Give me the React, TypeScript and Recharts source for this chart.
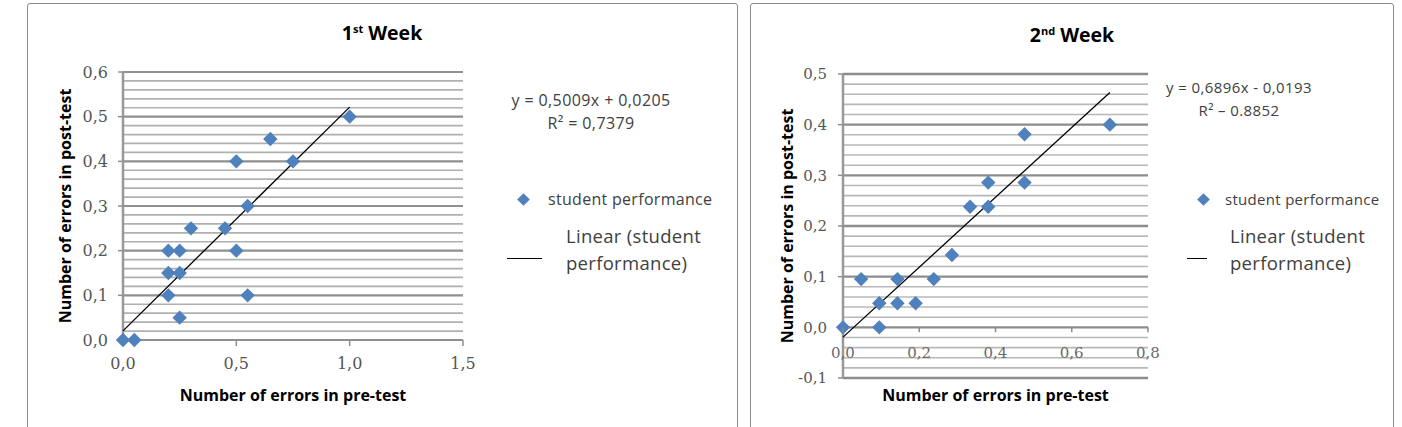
import React from "react";
import { ScatterChart, Scatter, XAxis, YAxis, ReferenceLine, Legend, Label } from "recharts";

/* =======================
   Data
======================= */
// 1st week
const week1Pre = [0, 0.05, 0.2, 0.25, 0.2, 0.25, 0.2, 0.25, 0.3, 0.45, 0.5, 0.55, 0.55, 0.5, 0.65, 0.75, 1.0];
const week1Post = [0, 0, 0.2, 0.2, 0.15, 0.15, 0.1, 0.05, 0.25, 0.25, 0.2, 0.1, 0.3, 0.4, 0.45, 0.4, 0.5];
const week1TrendX = [0, 1.0];
const week1TrendY = [0.0205, 0.5214];
const week1XTicks = [0, 0.5, 1.0, 1.5];
const week1YTicks = [0, 0.1, 0.2, 0.3, 0.4, 0.5, 0.6];

// 2nd week
const week2Pre = [0, 0.0476, 0.0952, 0.0952, 0.1429, 0.1429, 0.1905, 0.2381, 0.2857, 0.3333, 0.381, 0.381, 0.4762, 0.4762, 0.7];
const week2Post = [0, 0.0952, 0.0476, 0, 0.0952, 0.0476, 0.0476, 0.0952, 0.1429, 0.2381, 0.2381, 0.2857, 0.2857, 0.381, 0.4];
const week2TrendX = [0, 0.7];
const week2TrendY = [-0.0193, 0.4634];
const week2XTicks = [0, 0.2, 0.4, 0.6, 0.8];
const week2YTicks = [-0.1, 0, 0.1, 0.2, 0.3, 0.4, 0.5];

const seriesName = "student performance";
const xTitle = "Number of errors in pre-test";
const yTitle = "Number of errors in post-test";

/* =======================
   Utils
======================= */
const BLUE = "#4F81BD";
const TICK_FONT = "'DejaVu Serif', serif";
const SANS = "'Open Sans', sans-serif";

const fmt = (v: number) => v.toFixed(1).replace(".", ",");

const toPoints = (xs: number[], ys: number[]) => xs.map((x, i) => ({ x, y: ys[i] }));

// minor gridlines every 0.02
const gridSteps = (from: number, to: number) => {
  const out: number[] = [];
  for (let i = Math.round(from * 50); i <= Math.round(to * 50); i++) out.push(i / 50);
  return out;
};
const isMajor = (v: number) => Math.abs(v * 10 - Math.round(v * 10)) < 1e-6;

const Diamond = (props: any) => {
  const { cx, cy } = props;
  if (cx == null || cy == null) return <g />;
  const r = 7.2;
  return <path d={`M${cx},${cy - r}L${cx + r},${cy}L${cx},${cy + r}L${cx - r},${cy}Z`} fill={BLUE} />;
};

const Empty = () => <g />;

const axisTitleStyle = { fontFamily: SANS, fontWeight: 700, fontSize: 16, fill: "#000" };

/* =======================
   Legend / equation
======================= */
type LegendProps = {
  markerX: number;
  markerTextX: number;
  markerFont: number;
  lineX: number;
  lineW: number;
  textX: number;
};

const LegendBox = ({ markerX, markerTextX, markerFont, lineX, lineW, textX }: LegendProps) => (
  <div style={{ position: "relative", width: 220, height: 95, fontFamily: SANS, color: "#404040" }}>
    <div
      style={{
        position: "absolute", left: markerX - 4.5, top: 8.5, width: 9, height: 9,
        background: BLUE, transform: "rotate(45deg)",
      }}
    />
    <div style={{ position: "absolute", left: markerTextX, top: 3, fontSize: markerFont, lineHeight: "20px", whiteSpace: "nowrap", letterSpacing: 0.3 }}>
      {seriesName}
    </div>
    <div style={{ position: "absolute", left: lineX, top: 72, width: lineW, height: 0, borderTop: "1.5px solid #000" }} />
    <div style={{ position: "absolute", left: textX, top: 36, fontSize: 18.5, lineHeight: "27px", whiteSpace: "nowrap", letterSpacing: 0.3 }}>
      Linear (student
      <br />
      performance)
    </div>
  </div>
);

const Equation = ({ line1, line2, left, top, size }: { line1: string; line2: string; left: number; top: number; size: number }) => (
  <div
    style={{
      position: "absolute", left, top, width: 220, textAlign: "center",
      fontFamily: SANS, fontSize: size, lineHeight: "23px", color: "#404040", letterSpacing: 0.4,
    }}
  >
    {line1}
    <br />
    {line2}
  </div>
);

/* =======================
   Charts
======================= */
const ZeroAxisTick = (props: any) => {
  // x tick drawn on the y = 0 line (plot height 304, domain -0.1..0.5)
  const { x, y, payload } = props;
  const zeroY = y - 304 / 6;
  return (
    <g>
      <line x1={x} x2={x} y1={zeroY} y2={zeroY + 5} stroke="#8c8c8c" strokeWidth={1.5} />
      <text x={x} y={zeroY + 31} textAnchor="middle" fill="#6a6a6a" fontSize={15} fontFamily={TICK_FONT}>
        {fmt(payload.value)}
      </text>
    </g>
  );
};

const Week1Chart = () => {
  const points = toPoints(week1Pre, week1Post);
  const trend = toPoints(week1TrendX, week1TrendY);
  return (
    <ScatterChart width={737} height={470} margin={{ top: 72, right: 274, bottom: 20, left: 7 }}>
      {gridSteps(0, 0.6).map((v) => (
        <ReferenceLine key={v} y={v} stroke={isMajor(v) ? "#8f8f8f" : "#b0b0b0"} strokeWidth={isMajor(v) ? 2.2 : 1.7} />
      ))}
      <XAxis
        type="number" dataKey="x" domain={[0, 1.5]} ticks={week1XTicks} interval={0}
        tickFormatter={fmt} height={110} tickSize={6} tickMargin={12}
        axisLine={{ stroke: "#8f8f8f", strokeWidth: 2 }} tickLine={{ stroke: "#8f8f8f", strokeWidth: 1.5 }}
        tick={{ fill: "#555", fontSize: 16, fontFamily: TICK_FONT }}
      >
        <Label value={xTitle} position="center" style={axisTitleStyle} />
      </XAxis>
      <YAxis
        type="number" dataKey="y" domain={[0, 0.6]} ticks={week1YTicks} interval={0}
        tickFormatter={fmt} width={116} tickSize={5} tickMargin={10}
        axisLine={{ stroke: "#999", strokeWidth: 2.5 }} tickLine={{ stroke: "#8f8f8f", strokeWidth: 1.5 }}
        tick={{ fill: "#555", fontSize: 16, fontFamily: TICK_FONT }}
      >
        <Label value={yTitle} angle={-90} position="center" style={{ ...axisTitleStyle, textAnchor: "middle" }} />
      </YAxis>
      <Scatter name="trend" data={trend} line={{ stroke: "#000", strokeWidth: 1.3 }} shape={Empty} isAnimationActive={false} legendType="none" />
      <Scatter name={seriesName} data={points} shape={Diamond} isAnimationActive={false} />
      <Legend
        layout="horizontal" verticalAlign="middle" align="center"
        wrapperStyle={{ left: 496, top: 186, width: 230 }}
        content={() => <LegendBox markerX={27} markerTextX={52} markerFont={16} lineX={11} lineW={35} textX={70} />}
      />
    </ScatterChart>
  );
};

const Week2Chart = () => {
  const points = toPoints(week2Pre, week2Post);
  const trend = toPoints(week2TrendX, week2TrendY);
  return (
    <ScatterChart width={703} height={470} margin={{ top: 74, right: 245, bottom: 58, left: 41 }}>
      {gridSteps(-0.1, 0.5).map((v) => (
        <ReferenceLine key={v} y={v} stroke={isMajor(v) ? "#8c8c8c" : "#b8b8b8"} strokeWidth={isMajor(v) ? 2.4 : 1.6} />
      ))}
      <XAxis
        type="number" dataKey="x" domain={[0, 0.8]} ticks={week2XTicks} interval={0}
        height={34} tickSize={0} tickMargin={0} axisLine={false} tickLine={false}
        tick={<ZeroAxisTick />}
      >
        <Label value={xTitle} position="center" style={axisTitleStyle} />
      </XAxis>
      <YAxis
        type="number" dataKey="y" domain={[-0.1, 0.5]} ticks={week2YTicks} interval={0}
        tickFormatter={fmt} width={112} tickSize={5} tickMargin={11}
        axisLine={{ stroke: "#999", strokeWidth: 2.5 }} tickLine={{ stroke: "#8f8f8f", strokeWidth: 1.5 }}
        tick={{ fill: "#555", fontSize: 15, fontFamily: TICK_FONT }}
      >
        <Label value={yTitle} angle={-90} position="center" style={{ ...axisTitleStyle, textAnchor: "middle" }} />
      </YAxis>
      <Scatter name="trend" data={trend} line={{ stroke: "#000", strokeWidth: 1.3 }} shape={Empty} isAnimationActive={false} legendType="none" />
      <Scatter name={seriesName} data={points} shape={Diamond} isAnimationActive={false} />
      <Legend
        layout="horizontal" verticalAlign="middle" align="center"
        wrapperStyle={{ left: 494, top: 186, width: 230 }}
        content={() => <LegendBox markerX={19} markerTextX={41} markerFont={15} lineX={3} lineW={20} textX={46} />}
      />
    </ScatterChart>
  );
};

/* =======================
   App
======================= */
const panelStyle: React.CSSProperties = {
  position: "absolute", top: 3, height: 440, border: "1px solid #8a8a8a", borderRadius: 3,
  boxSizing: "border-box", background: "#fff",
};

const Title = ({ n, sup, center, top }: { n: string; sup: string; center: number; top: number }) => (
  <div
    style={{
      position: "absolute", left: center - 100, top, width: 200, textAlign: "center",
      fontFamily: SANS, fontWeight: 700, fontSize: 19.5, lineHeight: "22px", color: "#000",
    }}
  >
    {n}
    <sup style={{ fontSize: 11, lineHeight: 0, verticalAlign: "7px" }}>{sup}</sup> Week
  </div>
);

export default function App() {
  return (
    <div style={{ position: "absolute", left: 0, top: 0, width: 1402, height: 427, overflow: "hidden", background: "#fff" }}>
      <div style={{ ...panelStyle, left: 27, width: 711 }} />
      <div style={{ ...panelStyle, left: 750, width: 644 }} />

      <Title n="1" sup="st" center={382} top={22} />
      <Title n="2" sup="nd" center={1072} top={24} />

      <Equation line1="y = 0,5009x + 0,0205" line2="R² = 0,7379" left={481} top={89} size={16} />
      <Equation line1="y = 0,6896x - 0,0193" line2="R² – 0.8852" left={1129} top={76} size={15} />

      <div style={{ position: "absolute", left: 0, top: 0 }}>
        <Week1Chart />
      </div>
      <div style={{ position: "absolute", left: 690, top: 0 }}>
        <Week2Chart />
      </div>
    </div>
  );
}
